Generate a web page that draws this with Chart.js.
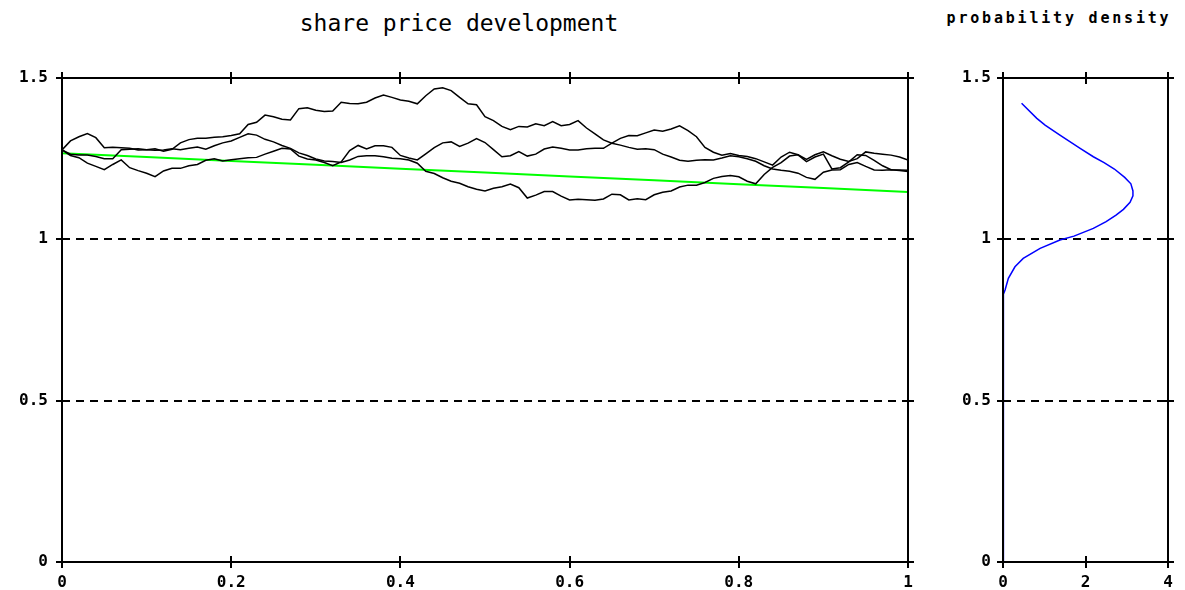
<!DOCTYPE html>
<html>
<head>
<meta charset="utf-8">
<script src="https://cdn.jsdelivr.net/npm/chart.js@4.4.1/dist/chart.umd.min.js"></script>
<style>
  body { margin: 0; background: #fff; width: 1185px; height: 590px; position: relative; overflow: hidden; }
  canvas { position: absolute; top: 0; }
  #leftChart { left: 0; }
  #rightChart { left: 940px; }
  .title { position: absolute; font-family: "DejaVu Sans Mono", monospace; color: #000; text-align: center; white-space: nowrap; }
  #mainTitle { left: 0; width: 918px; top: 10px; font-size: 23px; }
  #sideTitle { left: 941px; width: 236px; top: 9px; font-size: 15px; font-weight: bold; letter-spacing: 2.8px; }
</style>
</head>
<body>
<div class="title" id="mainTitle">share price development</div>
<div class="title" id="sideTitle">probability density</div>
<canvas id="leftChart" width="940" height="590"></canvas>
<canvas id="rightChart" width="245" height="590"></canvas>
<script>
// time grid of the simulated paths (0 .. 1 in steps of 0.01)
var timeGrid = Array.from({length: 101}, (_, i) => i / 100);

// three simulated share price paths
var pathA = [1.277, 1.305, 1.318, 1.328, 1.315, 1.284, 1.285, 1.284, 1.282, 1.277,
  1.278, 1.281, 1.273, 1.279, 1.299, 1.309, 1.313, 1.313, 1.316, 1.318,
  1.322, 1.327, 1.356, 1.363, 1.385, 1.380, 1.372, 1.370, 1.405, 1.408,
  1.400, 1.396, 1.398, 1.425, 1.421, 1.420, 1.425, 1.438, 1.447, 1.440,
  1.432, 1.428, 1.420, 1.445, 1.466, 1.470, 1.461, 1.440, 1.420, 1.417,
  1.380, 1.368, 1.350, 1.340, 1.350, 1.348, 1.358, 1.352, 1.365, 1.352,
  1.356, 1.368, 1.345, 1.327, 1.308, 1.298, 1.292, 1.285, 1.279, 1.281,
  1.278, 1.264, 1.255, 1.245, 1.242, 1.245, 1.247, 1.246, 1.252, 1.259,
  1.256, 1.250, 1.242, 1.228, 1.218, 1.214, 1.211, 1.205, 1.192, 1.186,
  1.208, 1.215, 1.216, 1.232, 1.238, 1.226, 1.215, 1.214, 1.216, 1.213, 1.210];

var pathB = [1.277, 1.264, 1.261, 1.261, 1.257, 1.250, 1.250, 1.278, 1.279, 1.281,
  1.278, 1.276, 1.277, 1.281, 1.278, 1.282, 1.286, 1.279, 1.290, 1.299,
  1.305, 1.316, 1.327, 1.323, 1.310, 1.302, 1.291, 1.282, 1.268, 1.260,
  1.249, 1.243, 1.241, 1.238, 1.246, 1.257, 1.259, 1.259, 1.256, 1.251,
  1.250, 1.246, 1.236, 1.211, 1.204, 1.191, 1.180, 1.174, 1.163, 1.155,
  1.150, 1.158, 1.163, 1.171, 1.160, 1.128, 1.137, 1.148, 1.148, 1.134,
  1.122, 1.124, 1.123, 1.121, 1.125, 1.140, 1.138, 1.122, 1.126, 1.123,
  1.138, 1.146, 1.150, 1.162, 1.168, 1.168, 1.176, 1.189, 1.195, 1.198,
  1.194, 1.180, 1.172, 1.201, 1.223, 1.238, 1.258, 1.262, 1.241, 1.255,
  1.264, 1.218, 1.222, 1.240, 1.262, 1.260, 1.245, 1.228, 1.216, 1.215, 1.214];

var pathC = [1.277, 1.260, 1.253, 1.236, 1.226, 1.216, 1.232, 1.246, 1.222, 1.213,
  1.205, 1.194, 1.212, 1.220, 1.220, 1.228, 1.232, 1.245, 1.250, 1.243,
  1.247, 1.250, 1.253, 1.254, 1.264, 1.273, 1.282, 1.280, 1.258, 1.249,
  1.246, 1.238, 1.228, 1.240, 1.275, 1.291, 1.280, 1.290, 1.290, 1.285,
  1.260, 1.252, 1.246, 1.265, 1.284, 1.299, 1.302, 1.288, 1.298, 1.312,
  1.300, 1.278, 1.256, 1.259, 1.272, 1.258, 1.264, 1.280, 1.286, 1.282,
  1.277, 1.277, 1.281, 1.282, 1.282, 1.298, 1.313, 1.322, 1.321, 1.330,
  1.339, 1.335, 1.342, 1.352, 1.337, 1.318, 1.285, 1.270, 1.261, 1.266,
  1.260, 1.257, 1.250, 1.240, 1.230, 1.255, 1.270, 1.262, 1.248, 1.262,
  1.271, 1.259, 1.248, 1.241, 1.250, 1.271, 1.267, 1.264, 1.261, 1.255, 1.246];

// expected price (green)
var trendTime = [0, 0.1, 0.2, 0.3, 0.4, 0.5, 0.6, 0.7, 0.8, 0.9, 1];
var trendValue = [1.267, 1.255, 1.243, 1.231, 1.219, 1.207, 1.195, 1.183, 1.171, 1.159, 1.147];

// density of the price at the end (blue), density value against price
var densityValue = [0, 0, 0.02, 0.05, 0.13, 0.29, 0.49, 0.90, 1.38, 1.72, 2.19, 2.50, 2.74, 2.92,
  3.08, 3.15, 3.15, 3.10, 2.95, 2.70, 2.45, 2.19, 1.87, 1.38, 1.02, 0.82, 0.45];
var densityPrice = [0, 0.81, 0.83, 0.843, 0.879, 0.915, 0.941, 0.972, 0.998, 1.010, 1.034, 1.055, 1.075, 1.093,
  1.115, 1.135, 1.150, 1.172, 1.192, 1.218, 1.238, 1.256, 1.282, 1.323, 1.354, 1.375, 1.422];

var tickFont = {family: 'DejaVu Sans Mono', size: 16, weight: 'bold'};
var plainNumber = function (v) { return String(Number(v.toFixed(2))); };

// frame round the plot area with small ticks crossing it
var framePlugin = {
  id: 'frame',
  afterDraw: function (chart) {
    var ctx = chart.ctx, a = chart.chartArea;
    var xs = chart.scales.x, ys = chart.scales.y;
    ctx.save();
    ctx.strokeStyle = '#000';
    ctx.lineWidth = 2;
    ctx.strokeRect(a.left, a.top, a.right - a.left, a.bottom - a.top);
    ctx.beginPath();
    xs.ticks.forEach(function (t) {
      var px = Math.round(xs.getPixelForValue(t.value));
      ctx.moveTo(px, a.bottom - 6); ctx.lineTo(px, a.bottom + 6);
      ctx.moveTo(px, a.top - 6); ctx.lineTo(px, a.top + 6);
    });
    ys.ticks.forEach(function (t) {
      var py = Math.round(ys.getPixelForValue(t.value));
      ctx.moveTo(a.left - 6, py); ctx.lineTo(a.left + 6, py);
      ctx.moveTo(a.right - 6, py); ctx.lineTo(a.right + 6, py);
    });
    ctx.stroke();
    ctx.restore();
  }
};

function priceAxis(width, pad) {
  return {
    min: 0, max: 1.5,
    ticks: {stepSize: 0.5, color: '#000', font: tickFont, padding: pad, callback: plainNumber},
    grid: {
      drawTicks: false,
      lineWidth: 2,
      color: function (c) { return (c.tick && (c.tick.value === 0 || c.tick.value === 1.5)) ? 'rgba(0,0,0,0)' : '#000'; }
    },
    border: {display: false, dash: [8, 6]},
    afterFit: function (s) { s.width = width; }
  };
}

function timeAxis(max, step) {
  return {
    type: 'linear', min: 0, max: max,
    ticks: {stepSize: step, color: '#000', font: tickFont, padding: 3, maxRotation: 0, callback: plainNumber},
    grid: {display: false},
    border: {display: false},
    afterFit: function (s) { s.height = 28; }
  };
}

var left = new Chart(document.getElementById('leftChart'), {
  type: 'line',
  data: {
    labels: timeGrid,
    datasets: [
      {data: pathA, borderColor: '#000', borderWidth: 1.5},
      {data: pathB, borderColor: '#000', borderWidth: 1.5},
      {data: pathC, borderColor: '#000', borderWidth: 1.5},
      {data: trendTime.map((t, i) => ({x: t, y: trendValue[i]})), borderColor: '#00ff00', borderWidth: 2}
    ]
  },
  options: {
    responsive: false,
    animation: false,
    layout: {padding: {top: 78, right: 32, left: 0, bottom: 0}},
    elements: {point: {radius: 0}, line: {tension: 0}},
    plugins: {legend: {display: false}, tooltip: {enabled: false}},
    scales: {
      x: timeAxis(1, 0.2),
      y: priceAxis(62, 14)
    }
  },
  plugins: [framePlugin]
});

var right = new Chart(document.getElementById('rightChart'), {
  type: 'line',
  data: {
    datasets: [
      {data: densityValue.map((d, i) => ({x: d, y: densityPrice[i]})), borderColor: '#0000ff', borderWidth: 1.5}
    ]
  },
  options: {
    responsive: false,
    animation: false,
    layout: {padding: {top: 78, right: 17, left: 0, bottom: 0}},
    elements: {point: {radius: 0}, line: {tension: 0}},
    plugins: {legend: {display: false}, tooltip: {enabled: false}},
    scales: {
      x: timeAxis(4, 2),
      y: priceAxis(63, 12)
    }
  },
  plugins: [framePlugin]
});
</script>
</body>
</html>
